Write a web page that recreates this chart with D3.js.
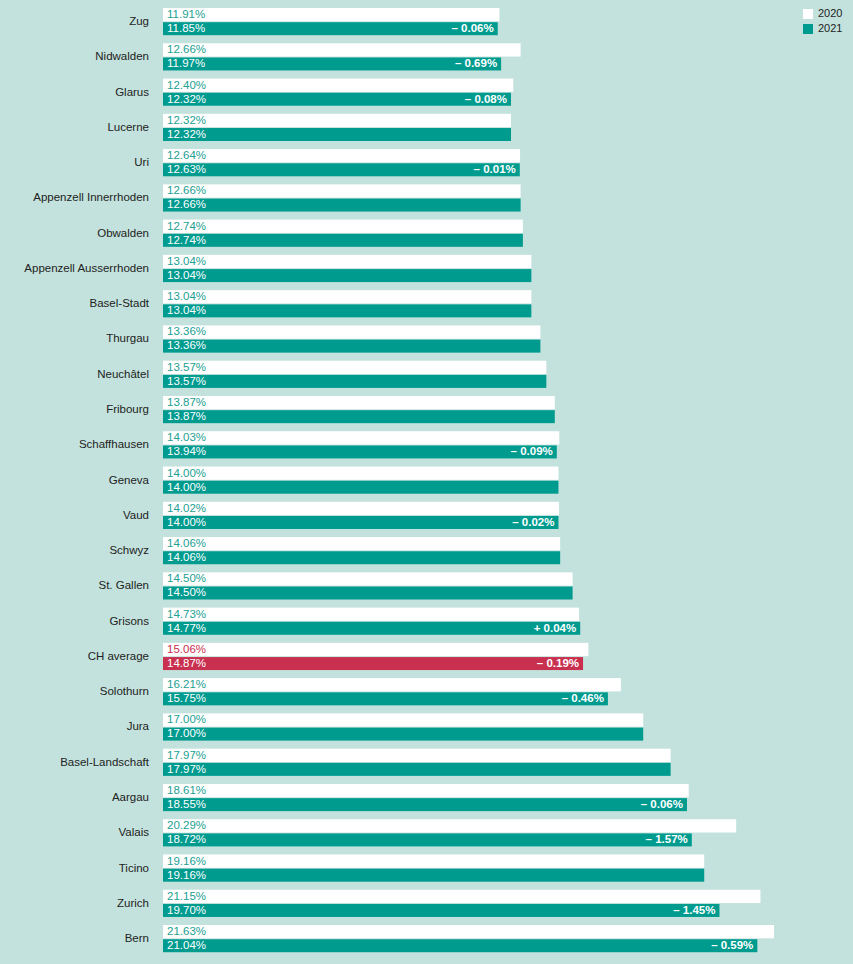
<!DOCTYPE html>
<html><head><meta charset="utf-8">
<script src="https://cdn.jsdelivr.net/npm/d3@7"></script>
<style>
html,body{margin:0;padding:0;background:#c3e2dd;}
svg{display:block;font-family:"Liberation Sans",Arial,Helvetica,sans-serif;}
</style></head>
<body>
<svg id="chart" width="853" height="964"></svg>
<script>
const categories = ["Zug","Nidwalden","Glarus","Lucerne","Uri","Appenzell Innerrhoden","Obwalden","Appenzell Ausserrhoden","Basel-Stadt","Thurgau","Neuchâtel","Fribourg","Schaffhausen","Geneva","Vaud","Schwyz","St. Gallen","Grisons","CH average","Solothurn","Jura","Basel-Landschaft","Aargau","Valais","Ticino","Zurich","Bern"];
const values2020 = [11.91,12.66,12.40,12.32,12.64,12.66,12.74,13.04,13.04,13.36,13.57,13.87,14.03,14.00,14.02,14.06,14.50,14.73,15.06,16.21,17.00,17.97,18.61,20.29,19.16,21.15,21.63];
const values2021 = [11.85,11.97,12.32,12.32,12.63,12.66,12.74,13.04,13.04,13.36,13.57,13.87,13.94,14.00,14.00,14.06,14.50,14.77,14.87,15.75,17.00,17.97,18.55,18.72,19.16,19.70,21.04];
const changes = ["– 0.06%","– 0.69%","– 0.08%","","– 0.01%","","","","","","","","– 0.09%","","– 0.02%","","","+ 0.04%","– 0.19%","– 0.46%","","","– 0.06%","– 1.57%","","– 1.45%","– 0.59%"];
const seriesNames = ["2020","2021"];
const highlight = "CH average";

const teal = "#009b8f", red = "#c9304f", white = "#ffffff";
const svg = d3.select("#chart");
const x = d3.scaleLinear().domain([0, 21.63]).range([163, 774]);
const y = d3.scaleBand().domain(categories).range([8, 8 + 27*35.27]).padding(0);

const rows = categories.map((c,i)=>({c, v0:values2020[i], v1:values2021[i], d:changes[i]}));
const g = svg.append("g").selectAll("g").data(rows).join("g")
  .attr("transform", d=>`translate(0,${y(d.c)})`);

g.append("text").attr("x",149).attr("y",14).attr("text-anchor","end")
  .attr("dominant-baseline","middle").attr("font-size",11.5).attr("fill","#222")
  .text(d=>d.c);

g.append("rect").attr("x",x(0)).attr("y",0).attr("height",13.3)
  .attr("width",d=>x(d.v0)-x(0)).attr("fill",white);
g.append("rect").attr("x",x(0)).attr("y",14.2).attr("height",13)
  .attr("width",d=>x(d.v1)-x(0)).attr("fill",d=>d.c===highlight?red:teal);

const fmt = v => v.toFixed(2) + "%";
g.append("text").attr("x",167).attr("y",7).attr("dominant-baseline","middle")
  .attr("font-size",11.5).attr("fill",d=>d.c===highlight?red:"#22a092")
  .text(d=>fmt(d.v0));
g.append("text").attr("x",167).attr("y",21).attr("dominant-baseline","middle")
  .attr("font-size",11.5).attr("fill",white)
  .text(d=>fmt(d.v1));
g.filter(d=>d.d).append("text").attr("x",d=>x(d.v1)-4).attr("y",21)
  .attr("dominant-baseline","middle").attr("text-anchor","end")
  .attr("font-size",11.5).attr("font-weight","bold").attr("fill",white)
  .text(d=>d.d);

const leg = svg.append("g").selectAll("g").data(seriesNames).join("g")
  .attr("transform",(d,i)=>`translate(803,${9+i*15})`);
leg.append("rect").attr("width",10).attr("height",10)
  .attr("fill",(d,i)=>i===0?white:teal);
leg.append("text").attr("x",15).attr("y",5.5).attr("dominant-baseline","middle")
  .attr("font-size",11).attr("fill","#222").text(d=>d);
</script>
</body></html>
